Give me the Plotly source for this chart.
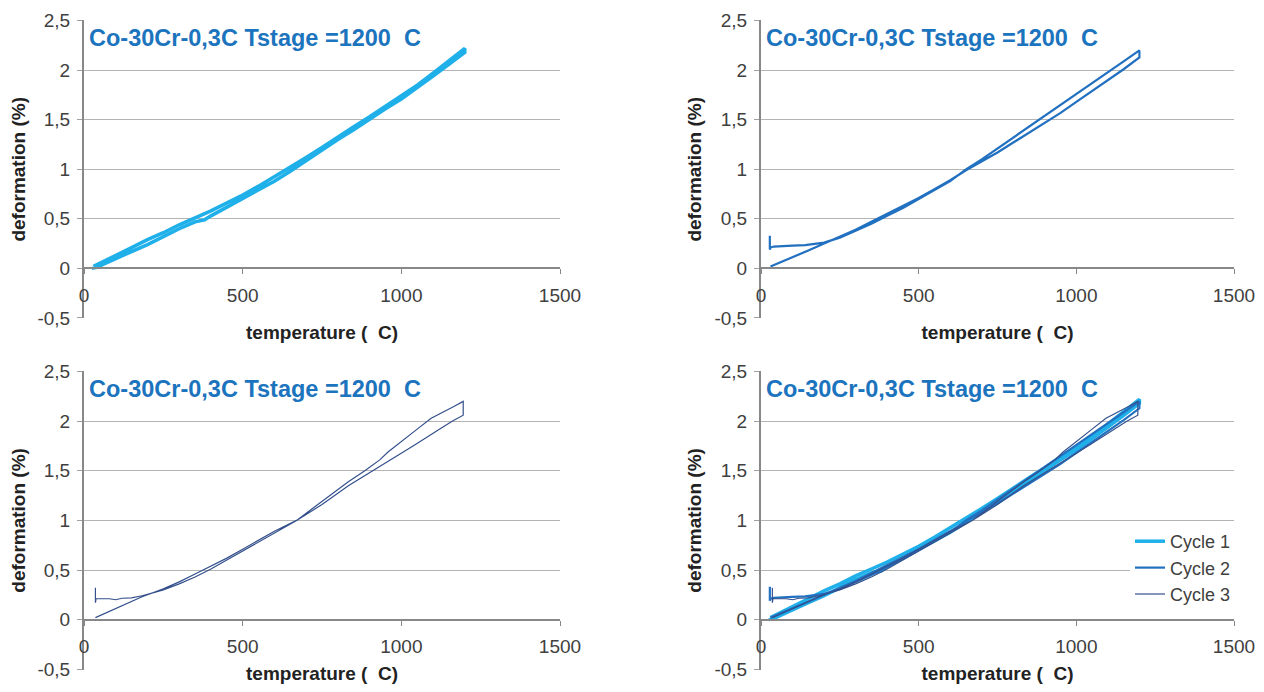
import plotly.graph_objects as go

# ---------------- data (temperature °C, deformation %) ----------------
c1_T = [25, 40, 60, 100, 150, 200, 250, 300, 350, 380, 400, 450, 500, 550, 600, 650, 700, 750, 800, 850,
        900, 950, 1000, 1050, 1100, 1150, 1200, 1200,
        1150, 1100, 1050, 1000, 950, 900, 850, 800, 750, 700, 650, 600, 550, 500, 450, 400, 350, 300,
        250, 200, 150, 100, 60, 40, 30]
c1_D = [0.0, 0.01, 0.04, 0.10, 0.17, 0.24, 0.32, 0.40, 0.47, 0.49, 0.53, 0.62, 0.70, 0.79, 0.88, 0.98, 1.09, 1.19, 1.30, 1.40,
        1.51, 1.61, 1.71, 1.82, 1.94, 2.06, 2.18, 2.22,
        2.09, 1.97, 1.85, 1.74, 1.63, 1.53, 1.43, 1.32, 1.22, 1.12, 1.02, 0.92, 0.83, 0.74, 0.66, 0.58, 0.51, 0.44,
        0.36, 0.29, 0.21, 0.13, 0.07, 0.04, 0.02]

c2_T = [30, 100, 150, 200, 250, 300, 350, 400, 450, 500, 550, 600, 650, 700, 750, 800, 850, 900, 950, 1000,
        1050, 1100, 1150, 1200, 1200,
        1150, 1100, 1050, 1000, 950, 900, 850, 800, 750, 700, 650, 600, 550, 500, 450, 400, 350, 300, 250,
        200, 170, 140, 100, 70, 40, 30, 28, 28]
c2_D = [0.02, 0.11, 0.18, 0.25, 0.32, 0.39, 0.47, 0.55, 0.63, 0.71, 0.80, 0.89, 0.99, 1.08, 1.17, 1.27, 1.37, 1.47, 1.57, 1.68,
        1.79, 1.90, 2.01, 2.13, 2.20,
        2.09, 1.98, 1.87, 1.76, 1.65, 1.54, 1.43, 1.32, 1.21, 1.10, 1.00, 0.88, 0.79, 0.70, 0.61, 0.53, 0.45, 0.38, 0.31,
        0.26, 0.245, 0.235, 0.23, 0.225, 0.22, 0.21, 0.19, 0.33]

c3_T = [36, 100, 150, 183, 250, 300, 350, 400, 450, 500, 550, 600, 670, 750, 833, 911, 980, 1042, 1115, 1160, 1195, 1195,
        1167, 1115, 1094, 1050, 1000, 958, 932, 885, 833, 780, 720, 670, 600, 550, 500, 450, 400, 350, 300, 250,
        200, 183, 150, 120, 100, 80, 50, 38, 36, 36]
c3_D = [0.02, 0.11, 0.18, 0.23, 0.31, 0.38, 0.46, 0.54, 0.62, 0.71, 0.80, 0.89, 1.00, 1.16, 1.35, 1.50, 1.64, 1.76, 1.91, 2.00, 2.06, 2.20,
        2.15, 2.06, 2.03, 1.92, 1.80, 1.69, 1.61, 1.50, 1.39, 1.26, 1.12, 1.00, 0.87, 0.78, 0.69, 0.60, 0.51, 0.43, 0.36, 0.30,
        0.255, 0.24, 0.22, 0.215, 0.20, 0.21, 0.21, 0.21, 0.17, 0.32]

series_names = ["Cycle 1", "Cycle 2", "Cycle 3"]
series_colors = ["#1fb0ea", "#2270c0", "#34508c"]
series_widths = [3.5, 2.2, 1.2]

y_ticks = [-0.5, 0, 0.5, 1, 1.5, 2, 2.5]
y_ticktext = ["-0,5", "0", "0,5", "1", "1,5", "2", "2,5"]
x_ticks = [0, 500, 1000, 1500]

panel_title = "Co-30Cr-0,3C Tstage =1200\u00a0 C"
x_title = "temperature (\u00a0 C)"
y_title = "deformation (%)"

# ---------------- layout geometry ----------------
# page body has an 8px margin, so the figure is 16px smaller than the window
OFF = 8
W, H = 1264 - 2 * OFF, 692 - 2 * OFF


def px_x(px):
    return (px - OFF) / W


def px_y(py):
    return 1 - (py - OFF) / H


xdom = {"L": [px_x(84), px_x(560)], "R": [px_x(761), px_x(1234)]}
ydom = {"T": [px_y(318.2), px_y(20.4)], "B": [px_y(669.5), px_y(371.3)]}

panels = [  # (col, row, series indices)
    ("L", "T", [0]),
    ("R", "T", [1]),
    ("L", "B", [2]),
    ("R", "B", [0, 1, 2]),
]

data_all = [(c1_T, c1_D), (c2_T, c2_D), (c3_T, c3_D)]
font_family = "Liberation Sans, Arial, sans-serif"

fig = go.Figure()
layout = dict(
    width=W, height=H, margin=dict(l=0, r=0, t=0, b=0, autoexpand=False),
    paper_bgcolor="white", plot_bgcolor="white",
    font=dict(family=font_family, size=19, color="#404040"),
    showlegend=True,
    legend=dict(x=px_x(1130), y=px_y(523), xanchor="left", yanchor="top",
                bgcolor="white", font=dict(size=18, color="#404040"),
                tracegroupgap=0, itemwidth=30),
)
annotations = []

for i, (col, row, idxs) in enumerate(panels):
    n = i + 1
    xa = "xaxis" if n == 1 else f"xaxis{n}"
    ya = "yaxis" if n == 1 else f"yaxis{n}"
    xr = "x" if n == 1 else f"x{n}"
    yr = "y" if n == 1 else f"y{n}"
    yd = ydom[row]
    zero_pos = yd[0] + (yd[1] - yd[0]) * (0.503 / 3.006)
    layout[xa] = dict(
        domain=xdom[col], range=[0, 1500], anchor="free", position=zero_pos,
        tickvals=x_ticks, ticks="outside", ticklen=5, tickcolor="#888888",
        showline=True, linecolor="#888888", linewidth=2, showgrid=False, zeroline=False,
        ticklabelstandoff=5, automargin=False, ticklabeloverflow="allow",
        title=dict(text=f"<b>{x_title}</b>", font=dict(size=19, color="#222222"), standoff=20),
    )
    layout[ya] = dict(
        domain=yd, range=[-0.503, 2.503], anchor=xr,
        tickvals=y_ticks, ticktext=y_ticktext, ticks="outside", ticklen=5, tickcolor="#a0a0a0",
        showline=True, linecolor="#888888", linewidth=2,
        showgrid=True, gridcolor="#b4b4b4", gridwidth=1.2, zeroline=False,
        ticklabelstandoff=3, automargin=False,
        title=dict(text=f"<b>{y_title}</b>", font=dict(size=19, color="#222222"), standoff=8),
    )
    for k in idxs:
        T, D = data_all[k]
        fig.add_trace(go.Scatter(
            x=T, y=D, mode="lines", name=series_names[k], xaxis=xr, yaxis=yr,
            line=dict(color=series_colors[k], width=series_widths[k]),
            showlegend=(n == 4),
        ))
    annotations.append(dict(
        xref=f"{xr} domain", yref=f"{yr} domain", x=0.006, y=0.941,
        xanchor="left", yanchor="middle", showarrow=False,
        text=f"<b>{panel_title}</b>", font=dict(size=23.5, color="#1b74bd"),
    ))

layout["annotations"] = annotations
fig.update_layout(**layout)
fig.write_html("out.html")
